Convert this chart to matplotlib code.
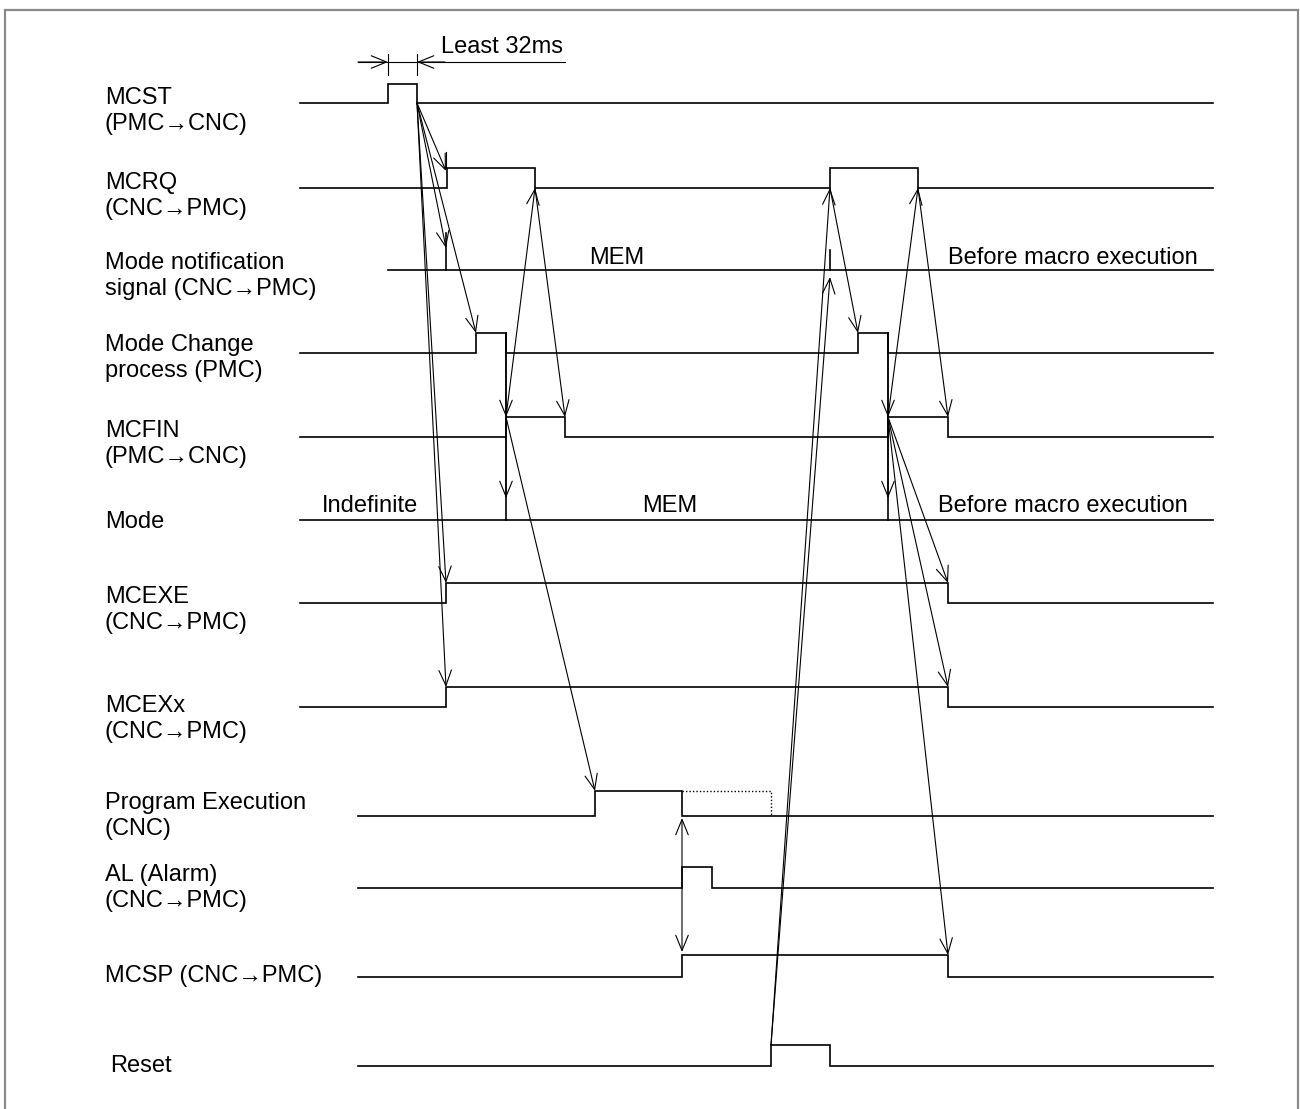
import matplotlib
matplotlib.use('Agg')
import matplotlib.pyplot as plt
from matplotlib.patches import FancyArrowPatch

plt.rcParams['font.family'] = ['Liberation Sans', 'DejaVu Sans']

# ---------------- data ----------------
signal_labels = ["MCST\n(PMC→CNC)", "MCRQ\n(CNC→PMC)", "Mode notification\nsignal (CNC→PMC)",
                 "Mode Change\nprocess (PMC)", "MCFIN\n(PMC→CNC)", "Mode",
                 "MCEXE\n(CNC→PMC)", "MCEXx\n(CNC→PMC)", "Program Execution\n(CNC)",
                 "AL (Alarm)\n(CNC→PMC)", "MCSP (CNC→PMC)", "Reset"]
# transition times (horizontal time positions) of each logic signal
mcst_edges = [388, 417]
mcrq_edges = [447, 535, 830, 918]
modechg_edges = [476, 506, 858, 888]
mcfin_edges = [506, 565, 888, 948]
mcexe_edges = [446, 948]
mcexx_edges = [446, 948]
progexec_edges = [595, 682]
alarm_edges = [682, 712]
mcsp_edges = [682, 948]
reset_edges = [771, 830]
# bus-type signals: change points and state texts
notif_changes = [446, 830]
notif_states = ["MEM", "Before macro execution"]
notif_state_pos = [617, 1073]
mode_changes = [506, 888]
mode_states = ["Indefinite", "MEM", "Before macro execution"]
mode_state_pos = [370, 670, 1063]
progexec_undefined_end = 771
pulse_text = "Least 32ms"

# ---------------- layout ----------------
lane_low = [103, 188, 270, 353, 437, 520, 603, 707, 816, 888, 977, 1066]
amp = [19, 20, 0, 20, 20, 0, 20, 20, 25, 21, 22, 21]
start_x = [300, 300, 388, 300, 300, 300, 300, 300, 358, 358, 358, 358]
end_x = 1213
label_x = [105] * 11 + [110]
label_y = [111, 196, 276, 358, 444, 522, 610, 719, 816, 888, 976, 1066]
FS = 17
SIG_LW = 1.2
ARR_LW = 0.8

MCST, MCRQ, NOTIF, MODECHG, MCFIN, MODE, MCEXE, MCEXX, PROG, AL, MCSP, RESET = range(12)

fig = plt.figure(figsize=(13, 11.09), dpi=100)
ax = fig.add_axes([0, 0, 1, 1])
ax.set_xlim(0, 1300)
ax.set_ylim(1109, 0)
ax.axis('off')

# frame
ax.plot([5, 5, 1298, 1298], [1109, 10, 10, 1109], color='#8a8a8a', lw=1.6, solid_joinstyle='miter')


def lo(i):
    return lane_low[i]


def hi(i):
    return lane_low[i] - amp[i]


def wave(i, edges):
    xs = [start_x[i]]
    ys = [lo(i)]
    level = lo(i)
    for e in edges:
        other = hi(i) if level == lo(i) else lo(i)
        xs += [e, e]
        ys += [level, other]
        level = other
    xs.append(end_x)
    ys.append(level)
    ax.plot(xs, ys, color='black', lw=SIG_LW, solid_joinstyle='miter')


def arrow(x0, y0, x1, y1, both=False):
    a = FancyArrowPatch((x0, y0), (x1, y1), arrowstyle='<->' if both else '->',
                        mutation_scale=10, shrinkA=0, shrinkB=0, color='black',
                        lw=ARR_LW)
    a.set_arrowstyle('<->' if both else '->', head_length=1.1, head_width=0.45)
    ax.add_patch(a)


# labels
for i, t in enumerate(signal_labels):
    ax.text(label_x[i], label_y[i], t, fontsize=FS, va='center', ha='left')

# waveforms
wave(MCST, mcst_edges)
wave(MCRQ, mcrq_edges)
wave(MODECHG, modechg_edges)
wave(MCFIN, mcfin_edges)
wave(MCEXE, mcexe_edges)
wave(MCEXX, mcexx_edges)
wave(PROG, progexec_edges)
wave(AL, alarm_edges)
wave(MCSP, mcsp_edges)
wave(RESET, reset_edges)

# bus lines
ax.plot([start_x[NOTIF], end_x], [lo(NOTIF)] * 2, color='black', lw=SIG_LW)
ax.plot([start_x[MODE], end_x], [lo(MODE)] * 2, color='black', lw=SIG_LW)
for t, x in zip(notif_states, notif_state_pos):
    ax.text(x, lo(NOTIF) - 12, t, fontsize=FS, ha='center', va='center')
for t, x in zip(mode_states, mode_state_pos):
    ax.text(x, lo(MODE) - 14, t, fontsize=FS, ha='center', va='center')

# notification change ticks
ax.plot([notif_changes[0]] * 2, [lo(NOTIF) - 37, lo(NOTIF)], color='black', lw=SIG_LW)
ax.plot([notif_changes[1]] * 2, [lo(NOTIF) - 20, lo(NOTIF)], color='black', lw=SIG_LW)
# small extension above MCRQ first rise
ax.plot([mcrq_edges[0] - 1] * 2, [hi(MCRQ) - 16, hi(MCRQ)], color='black', lw=ARR_LW)

# mode change verticals
for x in mode_changes:
    ax.plot([x, x], [hi(MODECHG), lo(MODE)], color='black', lw=SIG_LW)
    arrow(x, hi(MODECHG), x, hi(MCFIN))
    arrow(x, hi(MCFIN), x, lo(MODE) - 22)

# undefined region of program execution (dotted)
ax.plot([progexec_edges[1], progexec_undefined_end, progexec_undefined_end],
        [hi(PROG), hi(PROG), lo(PROG)], color='black', lw=1.0, ls=(0, (1, 1.5)))

# causal arrows, first cycle
x0 = mcst_edges[1]
arrow(x0, lo(MCST), mcrq_edges[0] - 1, hi(MCRQ) + 3)
arrow(x0, lo(MCST), notif_changes[0], lo(NOTIF) - 22)
arrow(x0, lo(MCST), modechg_edges[0], hi(MODECHG))
arrow(x0, lo(MCST), mcexe_edges[0], hi(MCEXE))
arrow(x0, lo(MCST), mcexx_edges[0], hi(MCEXX))
arrow(mcfin_edges[0], hi(MCFIN), mcrq_edges[1], lo(MCRQ))
arrow(mcrq_edges[1], lo(MCRQ), mcfin_edges[1], hi(MCFIN))
arrow(mcfin_edges[0], hi(MCFIN), progexec_edges[0], hi(PROG))

# alarm: program stops, MCSP set
arrow(alarm_edges[0], lo(PROG) + 2, mcsp_edges[0], hi(MCSP) - 3, both=True)

# reset cycle
xr = reset_edges[0]
arrow(xr, hi(RESET), mcrq_edges[2], lo(MCRQ))
arrow(xr, hi(RESET), notif_changes[1], lo(NOTIF) + 7)
arrow(mcrq_edges[2], lo(MCRQ), modechg_edges[2], hi(MODECHG))
arrow(mcfin_edges[2], hi(MCFIN), mcrq_edges[3], lo(MCRQ))
arrow(mcrq_edges[3], lo(MCRQ), mcfin_edges[3], hi(MCFIN))
arrow(mcfin_edges[2], hi(MCFIN), mcexe_edges[1], hi(MCEXE))
arrow(mcfin_edges[2], hi(MCFIN), mcexx_edges[1], hi(MCEXX))
arrow(mcfin_edges[2], hi(MCFIN), mcsp_edges[1], hi(MCSP))

# pulse width dimension
ax.plot([358, 565], [62, 62], color='black', lw=ARR_LW)
for x in mcst_edges:
    ax.plot([x, x], [54, 75], color='black', lw=ARR_LW)
arrow(358, 62, mcst_edges[0], 62)
arrow(445, 62, mcst_edges[1], 62)
ax.text(441, 47, pulse_text, fontsize=FS, ha='left', va='center')

fig.savefig('out.png', dpi=100)
